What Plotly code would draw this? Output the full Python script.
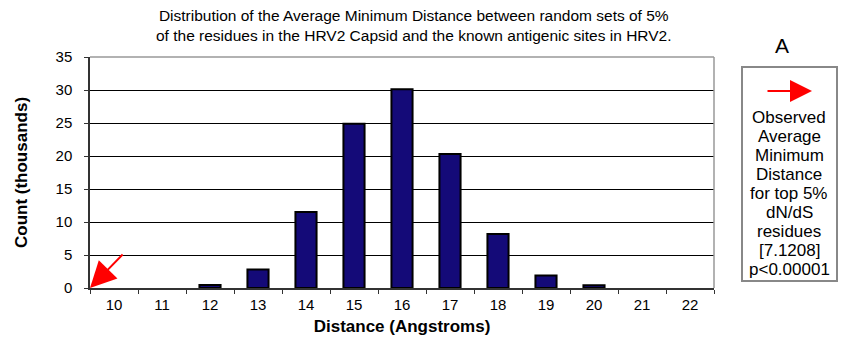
import plotly.graph_objects as go

# Histogram of average minimum distances (counts in thousands)
distances = ["10", "11", "12", "13", "14", "15", "16", "17", "18", "19", "20", "21", "22"]
counts_k = [0, 0, 0.45, 2.8, 11.5, 24.9, 30.1, 20.3, 8.2, 1.9, 0.4, 0, 0]

title_lines = [
    "Distribution of the Average Minimum Distance between random sets of 5%",
    "of the residues in the HRV2 Capsid and the known antigenic sites in HRV2.",
]
note_lines = ["Observed", "Average", "Minimum", "Distance", "for top 5%",
              "dN/dS", "residues", "[7.1208]", "p<0.00001"]
panel_label = "A"
x_title = "Distance (Angstroms)"
y_title = "Count (thousands)"
y_ticks = [0, 5, 10, 15, 20, 25, 30, 35]

FONT = "Liberation Sans, Arial, sans-serif"

W, H = 842, 343
M_L, M_R, M_T, M_B = 90, 128, 57, 55
PLOT_W = W - M_L - M_R
PLOT_H = H - M_T - M_B


def px_to_paper(px, py):
    """Convert page pixel coordinates to paper coordinates."""
    return (px - M_L) / PLOT_W, (H - M_B - py) / PLOT_H


fig = go.Figure(
    go.Bar(
        x=distances,
        y=counts_k,
        marker=dict(
            color="#140A78",
            line=dict(color="#000000", width=[0 if v == 0 else 2 for v in counts_k]),
        ),
        width=0.44,
    )
)

fig.update_layout(
    width=W,
    height=H,
    margin=dict(l=M_L, r=M_R, t=M_T, b=M_B),
    paper_bgcolor="white",
    plot_bgcolor="white",
    showlegend=False,
    font=dict(family=FONT, size=15, color="#000000"),
)

fig.update_xaxes(
    type="category",
    automargin=False,
    tickson="boundaries",
    ticks="outside",
    ticklen=4,
    tickwidth=1,
    tickcolor="#333333",
    showline=True,
    linecolor="#333333",
    linewidth=1.5,
    showgrid=False,
    tickfont=dict(size=15),
    ticklabelstandoff=2,
    title=dict(text="<b>" + x_title + "</b>", font=dict(size=17), standoff=8),
    range=[-0.5, len(distances) - 0.5],
)

fig.update_yaxes(
    range=[0, 35],
    automargin=False,
    tickvals=y_ticks,
    ticks="outside",
    ticklen=4,
    tickwidth=1,
    tickcolor="#333333",
    showline=True,
    linecolor="#333333",
    linewidth=1.5,
    showgrid=True,
    gridcolor="#000000",
    gridwidth=1,
    zeroline=False,
    tickfont=dict(size=15),
    ticklabelstandoff=9,
    title=dict(text="<b>" + y_title + "</b>", font=dict(size=17), standoff=24),
)

# Gray frame on the top and right of the plot area
fig.add_shape(type="line", xref="paper", yref="paper", x0=0, x1=1, y0=1, y1=1,
              line=dict(color="#999999", width=1.5), layer="above")
fig.add_shape(type="line", xref="paper", yref="paper", x0=1, x1=1, y0=0, y1=1,
              line=dict(color="#999999", width=1.5), layer="above")

# Title
tx, ty = px_to_paper(414, 25)
fig.add_annotation(
    text="<br>".join(title_lines), xref="paper", yref="paper",
    x=tx, y=ty, xanchor="center", yanchor="middle",
    showarrow=False, font=dict(size=15.5),
)

# Red arrow marking the observed value at the origin
fig.add_annotation(
    x=-0.5, y=0, xref="x", yref="y",
    ax=0.21, ay=5.3, axref="x", ayref="y",
    showarrow=True, arrowhead=2, arrowsize=2.6, arrowwidth=2,
    arrowcolor="#FF0000", text="",
)

# Side note box
bx0, by0 = px_to_paper(742, 281)
bx1, by1 = px_to_paper(837, 67)
fig.add_shape(type="rect", xref="paper", yref="paper",
              x0=bx0, x1=bx1, y0=by0, y1=by1,
              line=dict(color="#888888", width=2), fillcolor="white")
ax_, ay_ = px_to_paper(812, 91)
fig.add_annotation(
    x=ax_, y=ay_, xref="paper", yref="paper",
    ax=-46, ay=0, showarrow=True, arrowhead=2, arrowsize=2.2, arrowwidth=2,
    arrowcolor="#FF0000", text="",
)
for i, line in enumerate(note_lines):
    lx, ly = px_to_paper(789, 117 + 19 * i)
    fig.add_annotation(
        text=line, xref="paper", yref="paper",
        x=lx, y=ly, xanchor="center", yanchor="middle",
        showarrow=False, font=dict(size=17),
    )

px_, py_ = px_to_paper(782, 45)
fig.add_annotation(
    text=panel_label, xref="paper", yref="paper",
    x=px_, y=py_, xanchor="center", yanchor="middle",
    showarrow=False, font=dict(size=21),
)

fig.write_html("out.html")
